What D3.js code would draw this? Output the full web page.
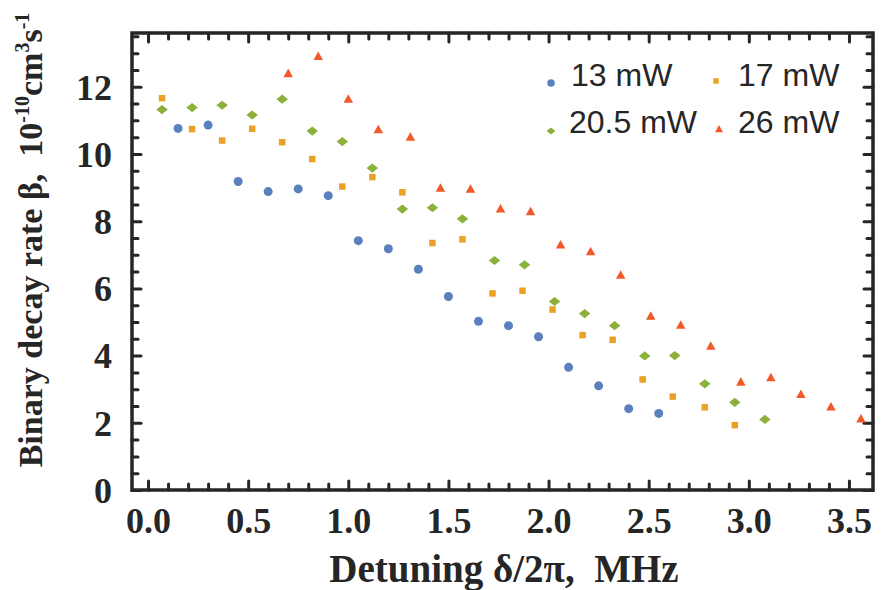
<!DOCTYPE html>
<html>
<head>
<meta charset="utf-8">
<script src="https://cdn.jsdelivr.net/npm/d3@7"></script>
<style>
  body { margin: 0; background: #fff; }
  svg { display: block; }
</style>
</head>
<body>
<svg id="chart"></svg>
<script>
// detuning (MHz) and binary decay rate (1e-10 cm^3/s) per laser power
const x13 = [0.15, 0.30, 0.45, 0.60, 0.75, 0.90, 1.05, 1.20, 1.35, 1.50, 1.65, 1.80, 1.95, 2.10, 2.25, 2.40, 2.55];
const beta13 = [10.76, 10.86, 9.18, 8.88, 8.96, 8.76, 7.42, 7.18, 6.57, 5.76, 5.02, 4.89, 4.56, 3.65, 3.10, 2.42, 2.28];

const x17 = [0.07, 0.22, 0.37, 0.52, 0.67, 0.82, 0.97, 1.12, 1.27, 1.42, 1.57, 1.72, 1.87, 2.02, 2.17, 2.32, 2.47, 2.62, 2.78, 2.93];
const beta17 = [11.66, 10.74, 10.40, 10.75, 10.35, 9.85, 9.03, 9.31, 8.86, 7.35, 7.46, 5.85, 5.93, 5.37, 4.61, 4.47, 3.29, 2.78, 2.46, 1.93];

const x205 = [0.07, 0.22, 0.37, 0.52, 0.67, 0.82, 0.97, 1.12, 1.27, 1.42, 1.57, 1.73, 1.88, 2.03, 2.18, 2.33, 2.48, 2.63, 2.78, 2.93, 3.08];
const beta205 = [11.32, 11.38, 11.45, 11.16, 11.63, 10.68, 10.37, 9.58, 8.36, 8.40, 8.07, 6.83, 6.70, 5.61, 5.25, 4.89, 3.99, 4.00, 3.16, 2.61, 2.10];

const x26 = [0.70, 0.85, 1.00, 1.15, 1.31, 1.46, 1.61, 1.76, 1.91, 2.06, 2.21, 2.36, 2.51, 2.66, 2.81, 2.96, 3.11, 3.26, 3.41, 3.56];
const beta26 = [12.40, 12.91, 11.64, 10.73, 10.51, 8.99, 8.96, 8.37, 8.29, 7.30, 7.10, 6.40, 5.18, 4.91, 4.29, 3.22, 3.35, 2.85, 2.48, 2.12];

const seriesNames = ["13 mW", "17 mW", "20.5 mW", "26 mW"];
const xTickValues = [0, 0.5, 1.0, 1.5, 2.0, 2.5, 3.0, 3.5];
const yTickValues = [0, 2, 4, 6, 8, 10, 12];

document.addEventListener('DOMContentLoaded', function () {
    var W = 881, H = 590;
    var margin = { top: 33, right: 8, bottom: 100, left: 132 };
    var width = W - margin.left - margin.right;
    var height = H - margin.top - margin.bottom;

    const svg = d3.select('#chart').attr("width", W).attr("height", H);
    const g = svg.append("g").attr("transform", `translate(${margin.left},${margin.top})`);

    const x = d3.scaleLinear().domain([-0.08, 3.62]).range([0, width]);
    const y = d3.scaleLinear().domain([0, 13.6]).range([height, 0]);

    const ink = "#262626";
    const serif = "'Liberation Serif', 'Times New Roman', serif";
    const sans = "'Liberation Sans', Arial, sans-serif";

    // minor + major ticks, all pointing inward, on all four sides
    const xMinor = d3.range(0, 36).map(i => i / 10);
    const yMinor = d3.range(0, 28).map(i => i / 2);
    const isMajorX = v => Math.abs(v * 2 - Math.round(v * 2)) < 1e-6;
    const isMajorY = v => Math.abs(v / 2 - Math.round(v / 2)) < 1e-6;

    function tickStyle(sel) {
        sel.select(".domain").remove();
        sel.selectAll("line").attr("stroke", ink).attr("stroke-width", 3).attr("stroke-linecap", "round");
        sel.selectAll("text").remove();
    }

    g.append("g").attr("transform", `translate(0,${height})`)
        .call(d3.axisBottom(x).tickValues(xMinor).tickSizeInner(0).tickSizeOuter(0))
        .call(tickStyle)
        .selectAll(".tick line").attr("y2", d => isMajorX(d) ? -9 : -6);
    g.append("g")
        .call(d3.axisTop(x).tickValues(xMinor).tickSizeInner(0).tickSizeOuter(0))
        .call(tickStyle)
        .selectAll(".tick line").attr("y2", d => isMajorX(d) ? 9 : 6);
    g.append("g")
        .call(d3.axisLeft(y).tickValues(yMinor).tickSizeInner(0).tickSizeOuter(0))
        .call(tickStyle)
        .selectAll(".tick line").attr("x2", d => isMajorY(d) ? 9 : 6);
    g.append("g").attr("transform", `translate(${width},0)`)
        .call(d3.axisRight(y).tickValues(yMinor).tickSizeInner(0).tickSizeOuter(0))
        .call(tickStyle)
        .selectAll(".tick line").attr("x2", d => isMajorY(d) ? -9 : -6);

    // tick labels
    const xAxisGroup = g.append("g").attr("transform", `translate(0,${height})`)
        .call(d3.axisBottom(x).tickValues(xTickValues).tickFormat(d3.format(".1f")).tickSize(0).tickPadding(0));
    xAxisGroup.select(".domain").remove();
    xAxisGroup.selectAll("text")
        .attr("y", 43).attr("dy", null)
        .attr("font-family", serif).attr("font-weight", "bold").attr("font-size", 36).attr("fill", ink);

    const yAxisGroup = g.append("g")
        .call(d3.axisLeft(y).tickValues(yTickValues).tickFormat(d3.format("d")).tickSize(0).tickPadding(20));
    yAxisGroup.select(".domain").remove();
    yAxisGroup.selectAll("text")
        .attr("dy", "0.34em")
        .attr("font-family", serif).attr("font-weight", "bold").attr("font-size", 36).attr("fill", ink);

    // frame
    g.append("rect")
        .attr("width", width).attr("height", height)
        .attr("fill", "none").attr("stroke", ink).attr("stroke-width", 3.5);

    // marker shapes (size = nominal width in px)
    const wideDiamond = {
        draw(ctx, s) {
            const w = s / 2, h = s * 0.4;
            ctx.moveTo(-w, 0); ctx.lineTo(0, -h); ctx.lineTo(w, 0); ctx.lineTo(0, h); ctx.closePath();
        }
    };
    const upTriangle = {
        draw(ctx, s) {
            const w = s / 2, h = s * 0.9;
            ctx.moveTo(0, -h * 0.55); ctx.lineTo(w, h * 0.45); ctx.lineTo(-w, h * 0.45); ctx.closePath();
        }
    };
    const dot = { draw(ctx, s) { ctx.moveTo(s / 2, 0); ctx.arc(0, 0, s / 2, 0, 2 * Math.PI); } };
    const box = { draw(ctx, s) { ctx.rect(-s / 2, -s / 2, s, s); } };

    const colors = ["#5b80be", "#eaa125", "#8bb13b", "#f05a2b"];
    const types = [dot, box, wideDiamond, upTriangle];
    const plotSizes = [9, 6.5, 11.5, 9.5];
    const legendSizes = [7.5, 5.5, 9, 8];

    const series = [
        { xs: x13, ys: beta13 },
        { xs: x17, ys: beta17 },
        { xs: x205, ys: beta205 },
        { xs: x26, ys: beta26 }
    ];

    series.forEach(function (s, i) {
        const pts = s.xs.map((v, j) => ({ x: v, y: s.ys[j] }));
        g.append("g").selectAll("path")
            .data(pts)
            .join("path")
            .attr("d", d3.symbol().type(types[i]).size(plotSizes[i]))
            .attr("transform", d => `translate(${x(d.x)},${y(d.y)})`)
            .attr("fill", colors[i]);
    });

    // legend
    const legendPos = [[551, 83], [716, 81], [551, 131], [719, 129]];
    const legendText = [[571, 86], [738, 86], [569, 133], [738, 133]];
    seriesNames.forEach(function (name, i) {
        svg.append("path")
            .attr("d", d3.symbol().type(types[i]).size(legendSizes[i]))
            .attr("transform", `translate(${legendPos[i][0]},${legendPos[i][1]})`)
            .attr("fill", colors[i]);
        svg.append("text")
            .attr("x", legendText[i][0]).attr("y", legendText[i][1])
            .attr("font-family", sans).attr("font-size", 32).attr("fill", ink)
            .text(name);
    });

    // X axis label
    svg.append("text")
        .attr("x", 504).attr("y", 582)
        .attr("text-anchor", "middle")
        .attr("font-family", serif).attr("font-weight", "bold").attr("font-size", 39).attr("fill", ink)
        .text("Detuning \u03b4/2\u03c0,\u00a0 MHz");

    // Y axis label with superscripts
    const yl = svg.append("text")
        .attr("transform", "translate(42,240) rotate(-90)")
        .attr("text-anchor", "middle")
        .attr("font-family", serif).attr("font-weight", "bold").attr("font-size", 34).attr("fill", ink);
    yl.append("tspan").text("Binary decay rate \u03b2,\u00a0 10");
    yl.append("tspan").attr("dy", -13).attr("font-size", 20).text("-10");
    yl.append("tspan").attr("dy", 13).text("cm");
    yl.append("tspan").attr("dy", -13).attr("font-size", 20).text("3");
    yl.append("tspan").attr("dy", 13).text("s");
    yl.append("tspan").attr("dy", -13).attr("font-size", 20).text("-1");
});
</script>
</body>
</html>
